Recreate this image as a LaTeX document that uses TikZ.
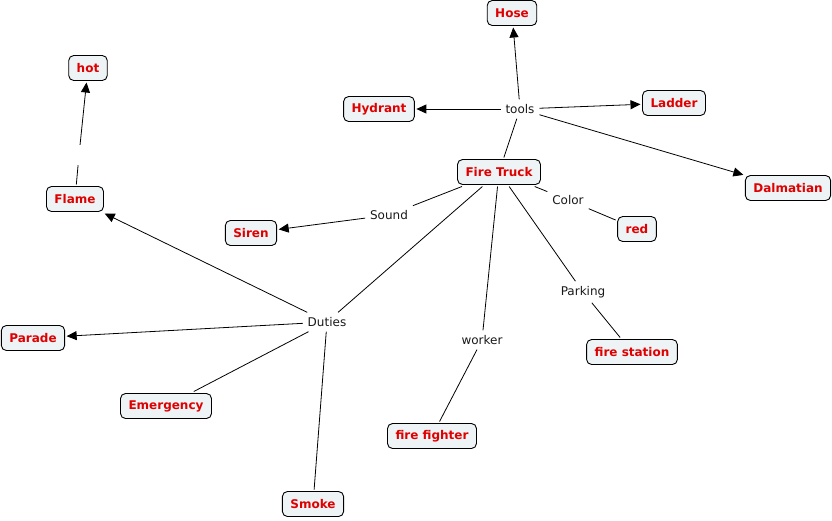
\documentclass[tikz,border=0pt]{standalone}
\usepackage{fontspec}
\setmainfont{DejaVu Sans}
\usetikzlibrary{arrows.meta}
\definecolor{boxfill}{HTML}{EEF3F5}
\definecolor{cred}{HTML}{E00000}
\tikzset{
  concept/.style={draw=black, line width=0.9pt, rounded corners=5pt, fill=boxfill,
    text=cred, font=\fontsize{12}{14}\selectfont\bfseries, inner xsep=8pt, inner ysep=2pt,
    minimum height=25pt, outer sep=2pt},
  linkph/.style={font=\fontsize{12}{14}\selectfont, text=black!90, inner sep=3pt, outer sep=2pt},
  conn/.style={draw=black, line width=0.8pt},
  arr/.style={conn, -{Triangle[length=10pt,width=9pt]}},
}
\begin{document}
\begin{tikzpicture}[x=1pt,y=-1pt]
\useasboundingbox (0,0) rectangle (832,520);
% concepts
\node[concept] (hose) at (512,13) {Hose};
\node[concept] (hot) at (88,68) {hot};
\node[concept] (hydrant) at (379,109) {Hydrant};
\node[concept] (ladder) at (674,103) {Ladder};
\node[concept] (truck) at (499,172) {Fire Truck};
\node[concept] (dalmatian) at (788,188) {Dalmatian};
\node[concept] (flame) at (75,199) {Flame};
\node[concept] (siren) at (251,233) {Siren};
\node[concept] (red) at (637,229) {red};
\node[concept] (parade) at (33,338) {Parade};
\node[concept] (station) at (632,352) {fire station};
\node[concept] (emergency) at (166,406) {Emergency};
\node[concept] (fighter) at (432,436) {fire fighter};
\node[concept] (smoke) at (313,504) {Smoke};
% linking phrases
\node[linkph] (tools) at (520,109) {tools};
\node[linkph] (sound) at (389,215) {Sound};
\node[linkph] (color) at (568,200) {Color};
\node[linkph] (parking) at (583,292) {Parking};
\node[linkph] (duties) at (327,322) {Duties};
\node[linkph] (worker) at (482,340) {worker};
\node[inner sep=0pt, minimum width=4pt, minimum height=20pt] (gap) at (79,155) {};
% connectors
\draw[conn] (truck) -- (tools);
\draw[arr] (tools) -- (hose);
\draw[arr] (tools) -- (hydrant);
\draw[arr] (tools) -- (ladder);
\draw[arr] (tools) -- (dalmatian);
\draw[conn] (truck) -- (sound);
\draw[arr] (sound) -- (siren);
\draw[conn] (truck) -- (color);
\draw[conn] (color) -- (red);
\draw[conn] (truck) -- (parking);
\draw[conn] (parking) -- (station);
\draw[conn] (truck) -- (worker);
\draw[conn] (worker) -- (fighter);
\draw[conn] (truck) -- (duties);
\draw[arr] (duties) -- (flame);
\draw[arr] (duties) -- (parade);
\draw[conn] (duties) -- (emergency);
\draw[conn] (duties) -- (smoke);
\draw[conn] (flame) -- (gap);
\draw[arr] (gap) -- (hot);
\end{tikzpicture}
\end{document}
